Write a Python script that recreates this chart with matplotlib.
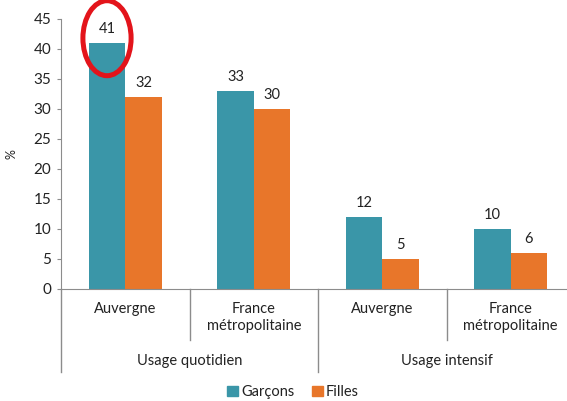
import matplotlib
matplotlib.use("Agg")
import matplotlib.pyplot as plt
from matplotlib.patches import Ellipse, Patch
import numpy as np

plt.rcParams['font.family'] = ['Lato', 'DejaVu Sans']

categories = ["Auvergne", "France\nmétropolitaine", "Auvergne", "France\nmétropolitaine"]
groups = ["Usage quotidien", "Usage intensif"]
garcons = [41, 33, 12, 10]
filles = [32, 30, 5, 6]
series_names = ["Garçons", "Filles"]
yticks = [0, 5, 10, 15, 20, 25, 30, 35, 40, 45]

teal = "#3A96A8"
orange = "#E8762A"
txt = "#222222"
grid_gray = "#8c8c8c"

W, H = 567, 401
fig = plt.figure(figsize=(W/100, H/100), dpi=100)
x0, x1 = 61, 575
y0, y1 = 289, 19
ax = fig.add_axes([x0/W, 1 - y0/H, (x1-x0)/W, (y0-y1)/H])

x = np.arange(len(categories))
bw = 0.284
b1 = ax.bar(x - bw/2, garcons, bw, color=teal, label=series_names[0])
b2 = ax.bar(x + bw/2, filles, bw, color=orange, label=series_names[1])
for bars, vals in ((b1, garcons), (b2, filles)):
    for r, v in zip(bars, vals):
        ax.annotate(str(v), (r.get_x() + r.get_width()/2, v), xytext=(0, 5),
                    textcoords="offset points", ha="center", va="bottom",
                    fontsize=10.5, color=txt)

ax.set_xlim(-0.5, len(categories) - 0.5)
ax.set_ylim(0, 45)
ax.set_yticks(yticks)
ax.tick_params(axis='y', length=3, color=grid_gray, labelsize=11, labelcolor=txt, pad=4)
ax.tick_params(axis='x', length=0, labelbottom=False)
for s in ['top', 'right']:
    ax.spines[s].set_visible(False)
ax.spines['left'].set_color(grid_gray)
ax.spines['bottom'].set_color(grid_gray)
ax.set_ylabel("%", fontsize=9, color=txt)
ax.yaxis.set_label_coords(-0.085, 0.5)

trans = ax.get_xaxis_transform()
short = -(340 - 289) / (y0 - y1)
long_ = -(372 - 289) / (y0 - y1)
for xs in [0.5, 2.5]:
    ax.plot([xs, xs], [0, short], transform=trans, color=grid_gray, lw=1, clip_on=False)
for xs in [-0.5, 1.5, 3.5]:
    ax.plot([xs, xs], [0, long_], transform=trans, color=grid_gray, lw=1, clip_on=False)

for i, c in enumerate(categories):
    ax.text(i, -(302 - 289) / (y0 - y1), c, transform=trans, ha="center", va="top",
            fontsize=10.5, color=txt, linespacing=1.3)
for g, gx in zip(groups, [0.5, 2.5]):
    ax.text(gx, -(361 - 289) / (y0 - y1), g, transform=trans, ha="center", va="center",
            fontsize=10.5, color=txt)

# red highlight ellipse around the first bar label
ell = Ellipse((-bw/2, 41.8), width=0.375, height=12.5, fill=False, edgecolor="#E3141B",
              lw=3.6, clip_on=False, zorder=5)
ax.add_patch(ell)

handles = [Patch(color=teal), Patch(color=orange)]
fig.legend(handles, series_names, loc="center", bbox_to_anchor=(293/W, 1 - 392/H),
           ncol=2, frameon=False, fontsize=10.5, handlelength=0.75, handleheight=0.75,
           handletextpad=0.2, columnspacing=1.2, labelcolor=txt)

fig.savefig("out.png", dpi=100)
